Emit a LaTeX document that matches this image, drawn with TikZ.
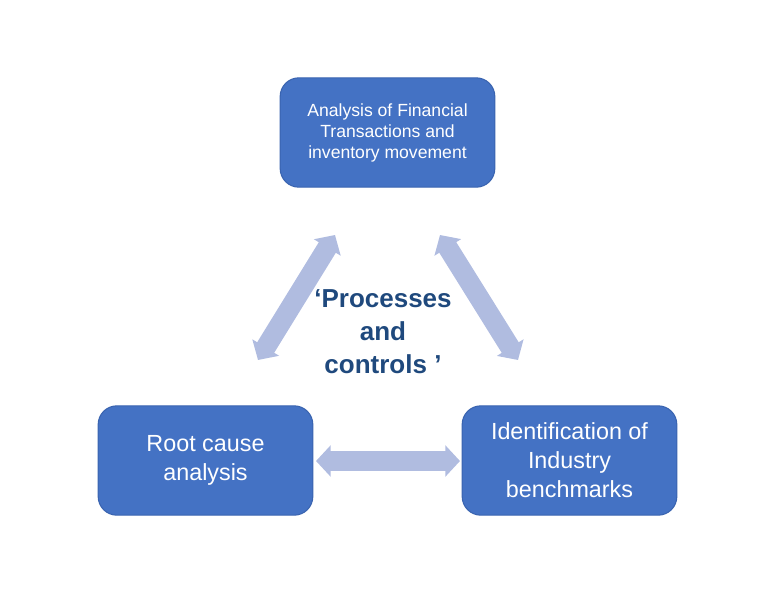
\documentclass[tikz,border=0pt]{standalone}
\usepackage{fontspec}
\setmainfont{Liberation Sans}
\definecolor{boxblue}{RGB}{68,114,196}
\definecolor{boxline}{RGB}{58,100,176}
\definecolor{pale}{RGB}{176,188,224}
\definecolor{deep}{RGB}{31,73,125}
\usetikzlibrary{arrows.meta}

\tikzset{
  stage/.style={draw=boxline, line width=0.8pt, fill=boxblue, rounded corners=14pt,
    text=white, align=center, minimum width=161pt, minimum height=82pt, inner sep=2pt},
  twoway/.style={pale, line width=15pt,
    {Triangle[length=11pt,width=23pt]}-{Triangle[length=11pt,width=23pt]}}
}

\begin{document}
\begin{tikzpicture}[x=0.75pt, y=-0.75pt]
  \useasboundingbox (0,0) rectangle (768,608);

  \node[stage, font=\fontsize{13.2}{15.75}\selectfont] (fin) at (387.5,132.5)
    {Analysis of Financial\\Transactions and\\inventory movement};
  \node[stage, font=\fontsize{17.5}{21.75}\selectfont] (root) at (205.5,460.5)
    {Root cause\\analysis};
  \node[stage, font=\fontsize{17.5}{21.75}\selectfont] (bench) at (569.5,460.5)
    {Identification of\\Industry\\benchmarks};

  \node[font=\bfseries\fontsize{19.5}{24.75}\selectfont, text=deep, align=center] (core) at (383,332)
    {`Processes\\and\\controls '};

  % arrows between the stages
  \coordinate (a1) at (258,360);
  \coordinate (a2) at (335,235);
  \coordinate (b1) at (440,235);
  \coordinate (b2) at (518,360);
  \coordinate (c1) at (316,461);
  \coordinate (c2) at (460,461);
  \draw[twoway] (a1) -- (a2);
  \draw[twoway] (b1) -- (b2);
  \draw[twoway] (c1) -- (c2);
\end{tikzpicture}
\end{document}
